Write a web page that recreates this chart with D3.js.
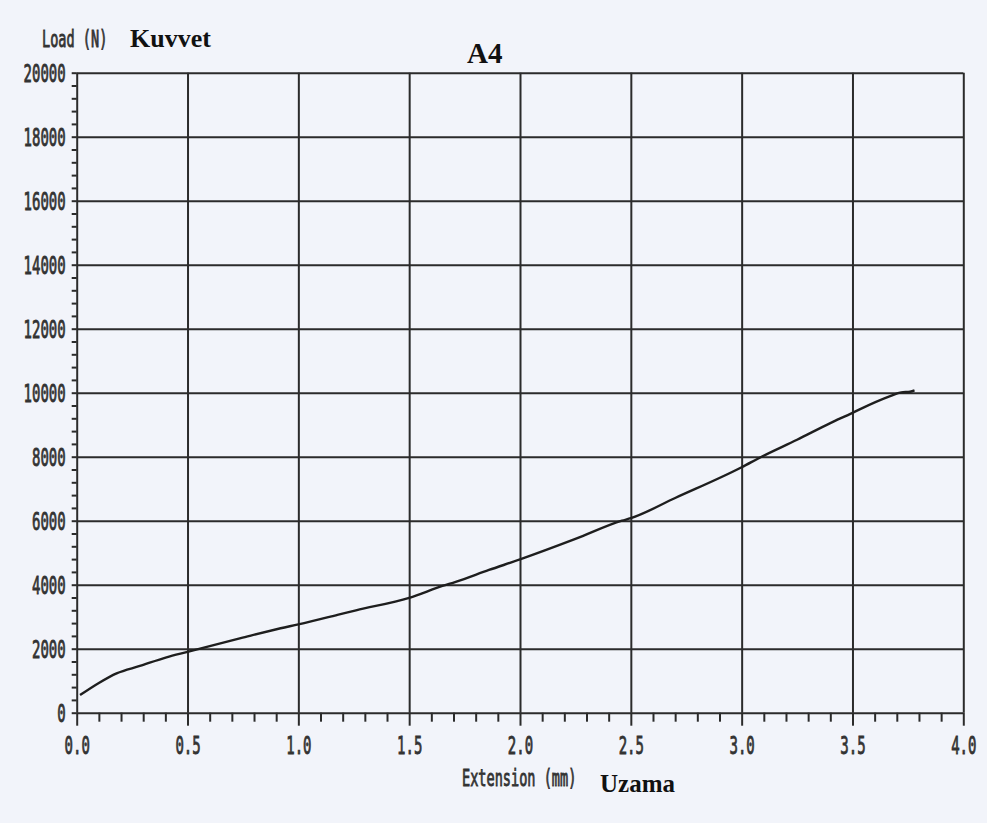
<!DOCTYPE html>
<html>
<head>
<meta charset="utf-8">
<script src="https://cdn.jsdelivr.net/npm/d3@7"></script>
<style>
  html, body { margin: 0; padding: 0; background: #f3f5fa; }
  svg { display: block; }
</style>
</head>
<body>
<script>
// ---- data ----
const extension = [0.015, 0.1, 0.18, 0.285, 0.405, 0.5, 0.74, 0.92, 1.0, 1.19, 1.26, 1.5, 1.65, 1.71, 1.86, 2.0, 2.25, 2.46, 2.5, 2.7, 3.0, 3.09, 3.25, 3.4, 3.5, 3.53, 3.67, 3.72, 3.76, 3.78];
const load = [550, 930, 1230, 1460, 1730, 1900, 2330, 2640, 2760, 3080, 3200, 3590, 3960, 4090, 4460, 4790, 5430, 6000, 6080, 6710, 7670, 8000, 8530, 9050, 9370, 9470, 9890, 10010, 10030, 10070];
const xTicks = [0, 0.5, 1.0, 1.5, 2.0, 2.5, 3.0, 3.5, 4.0];
const xTickLabels = ["0.0", "0.5", "1.0", "1.5", "2.0", "2.5", "3.0", "3.5", "4.0"];
const yTicks = [0, 2000, 4000, 6000, 8000, 10000, 12000, 14000, 16000, 18000, 20000];
const yTickLabels = ["0", "2000", "4000", "6000", "8000", "10000", "12000", "14000", "16000", "18000", "20000"];
const xMinor = d3.range(1, 40).filter(i => i % 5 !== 0).map(i => i / 10);
const yMinor = d3.range(1, 50).filter(i => i % 5 !== 0).map(i => i * 400);

const W = 987, H = 823;
const L = 76.7, R = 963.3, T = 72.7, B = 712.7;
const ink = "#2b2b2b";
const mono = "'DejaVu Sans Mono', monospace";
const SX = 0.56; // horizontal squeeze for the narrow plotter font

const svg = d3.select("body").append("svg").attr("width", W).attr("height", H);
svg.append("rect").attr("width", W).attr("height", H).attr("fill", "#f2f4fa");

const x = d3.scaleLinear().domain([0, 4]).range([L, R]);
const y = d3.scaleLinear().domain([0, 20000]).range([B, T]);

function styleAxis(g) {
  g.select(".domain").remove();
  g.selectAll("line").attr("stroke", ink).attr("stroke-width", 2);
}

// vertical grid
svg.append("g").attr("transform", `translate(0,${B})`)
  .call(d3.axisBottom(x).tickValues(xTicks).tickSize(-(B - T)).tickSizeOuter(0).tickFormat(""))
  .call(styleAxis);
// horizontal grid
svg.append("g").attr("transform", `translate(${L},0)`)
  .call(d3.axisLeft(y).tickValues(yTicks).tickSize(-(R - L)).tickSizeOuter(0).tickFormat(""))
  .call(styleAxis);

// minor ticks
svg.append("g").attr("transform", `translate(0,${B})`)
  .call(d3.axisBottom(x).tickValues(xMinor).tickSize(9).tickSizeOuter(0).tickFormat(""))
  .call(styleAxis);
svg.append("g").attr("transform", `translate(${L},0)`)
  .call(d3.axisLeft(y).tickValues(yMinor).tickSize(5).tickSizeOuter(0).tickFormat(""))
  .call(styleAxis);

function monoStyle(sel, size) {
  sel.attr("fill", "#333").attr("stroke", "#333").attr("stroke-width", 0.9)
    .style("font-family", mono).style("font-size", size).style("font-weight", "normal");
}

// x major ticks + labels
const xa = svg.append("g").attr("transform", `translate(0,${B})`)
  .call(d3.axisBottom(x).tickValues(xTicks).tickSize(13).tickSizeOuter(0).tickPadding(11)
    .tickFormat((d, i) => xTickLabels[i]))
  .call(styleAxis);
xa.selectAll("text").call(monoStyle, "25px").attr("transform", `scale(${SX},1)`);

// y major ticks + labels
const ya = svg.append("g").attr("transform", `translate(${L},0)`)
  .call(d3.axisLeft(y).tickValues(yTicks).tickSize(5).tickSizeOuter(0).tickPadding(6)
    .tickFormat((d, i) => yTickLabels[i]))
  .call(styleAxis);
ya.selectAll("text").call(monoStyle, "25px")
  .attr("x", -11 / SX)
  .attr("dy", "0.36em")
  .attr("transform", `scale(${SX},1)`);

// curve
const pts = extension.map((e, i) => [e, load[i]]);
svg.append("path")
  .datum(pts)
  .attr("fill", "none")
  .attr("stroke", "#1e1e1e")
  .attr("stroke-width", 2.4)
  .attr("d", d3.line().x(d => x(d[0])).y(d => y(d[1])).curve(d3.curveMonotoneX));

// texts
function monoText(str, tx, ty) {
  svg.append("text").attr("transform", `translate(${tx},${ty}) scale(0.59,1)`).text(str)
    .call(monoStyle, "23px");
}
monoText("Load (N)", 42, 47);
monoText("Extension (mm)", 462, 786);

const serif = "'Liberation Serif', 'Times New Roman', serif";
svg.append("text").attr("x", 130).attr("y", 47).text("Kuvvet")
  .style("font-family", serif).style("font-weight", "bold").style("font-size", "26px").attr("fill", "#111");
svg.append("text").attr("x", 467).attr("y", 63).text("A4")
  .style("font-family", serif).style("font-weight", "bold").style("font-size", "29px").attr("fill", "#111");
svg.append("text").attr("x", 600).attr("y", 792).text("Uzama")
  .style("font-family", serif).style("font-weight", "bold").style("font-size", "25px").attr("fill", "#111");
</script>
</body>
</html>
